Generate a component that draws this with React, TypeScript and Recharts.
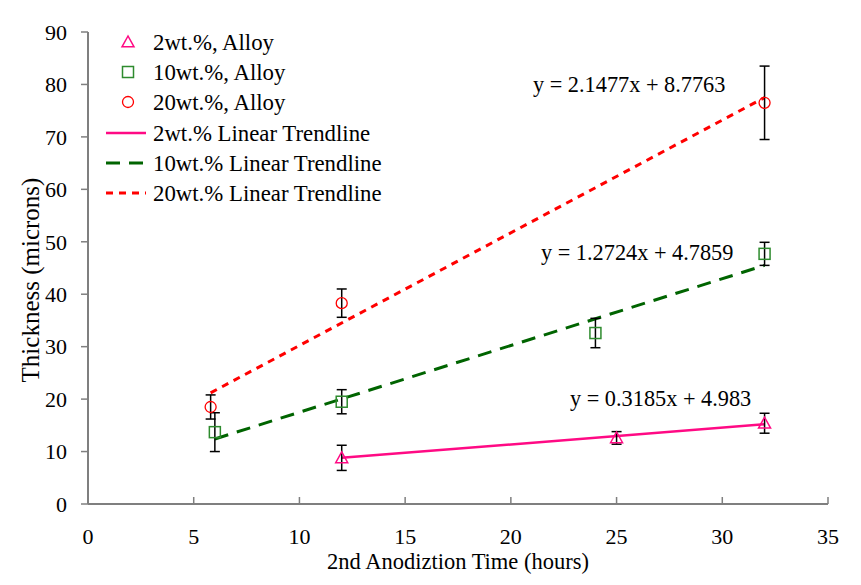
import React from "react";
import {
  ComposedChart,
  Scatter,
  Line,
  XAxis,
  YAxis,
  ErrorBar,
  Label,
} from "recharts";

// measured points (hours, microns) with +/- error
const alloy2 = [
  { x: 12, y: 8.8, err: 2.4 },
  { x: 25, y: 12.6, err: 1.2 },
  { x: 32, y: 15.4, err: 1.9 },
];
const alloy10 = [
  { x: 6, y: 13.7, err: 3.7 },
  { x: 12, y: 19.5, err: 2.3 },
  { x: 24, y: 32.6, err: 2.8 },
  { x: 32, y: 47.7, err: 2.2 },
];
const alloy20 = [
  { x: 5.8, y: 18.5, err: 2.3 },
  { x: 12, y: 38.3, err: 2.7 },
  { x: 32, y: 76.5, err: 7.0 },
];

// trendline end points
const trend2 = [
  { x: 12, y: 8.8 },
  { x: 32, y: 15.2 },
];
const trend10 = [
  { x: 6, y: 12.4 },
  { x: 32, y: 45.5 },
];
const trend20 = [
  { x: 5.8, y: 21.2 },
  { x: 32, y: 77.5 },
];

const xTicks = [0, 5, 10, 15, 20, 25, 30, 35];
const yTicks = [0, 10, 20, 30, 40, 50, 60, 70, 80, 90];

const equations = [
  { text: "y = 2.1477x + 8.7763", left: 533, top: 74 },
  { text: "y = 1.2724x + 4.7859", left: 541, top: 242 },
  { text: "y = 0.3185x + 4.983", left: 570, top: 388 },
];

const PINK = "#FF0A84";
const GREEN = "#006400";
const GREEN_MARK = "#2E8B2E";
const RED = "#FF0000";
const AXIS = "#7F7F7F";
const FONT = "Liberation Serif, Times New Roman, Times, DejaVu Serif, serif";

const W = 861;
const H = 585;
const AXIS_Y = 504;

const Triangle = (props: any) => {
  const { cx, cy } = props;
  const s = 6;
  return (
    <polygon
      points={`${cx},${cy - s} ${cx - s},${cy + s * 0.8} ${cx + s},${cy + s * 0.8}`}
      fill="none"
      stroke={PINK}
      strokeWidth={1.5}
    />
  );
};

const Square = (props: any) => {
  const { cx, cy } = props;
  return (
    <rect x={cx - 5.5} y={cy - 5.5} width={11} height={11} fill="none" stroke={GREEN_MARK} strokeWidth={1.5} />
  );
};

const Circle = (props: any) => {
  const { cx, cy } = props;
  return <circle cx={cx} cy={cy} r={5.5} fill="none" stroke={RED} strokeWidth={1.3} />;
};

const XTick = (props: any) => {
  const { x, payload } = props;
  return (
    <g>
      <line x1={x} x2={x} y1={AXIS_Y} y2={AXIS_Y - 7} stroke={AXIS} strokeWidth={1.5} />
      <text x={x} y={544} textAnchor="middle" fontSize={22} style={{ fontFamily: FONT }} fill="#000">
        {payload.value}
      </text>
    </g>
  );
};

const LegendBox = () => {
  const rows = [42, 72, 102, 133, 163, 193];
  const labels = [
    "2wt.%, Alloy",
    "10wt.%, Alloy",
    "20wt.%, Alloy",
    "2wt.% Linear Trendline",
    "10wt.% Linear Trendline",
    "20wt.% Linear Trendline",
  ];
  return (
    <svg width={420} height={220} style={{ position: "absolute", left: 0, top: 0 }}>
      <Triangle cx={128} cy={rows[0]} />
      <Square cx={128} cy={rows[1]} />
      <Circle cx={128} cy={rows[2]} />
      <line x1={106} x2={146} y1={rows[3]} y2={rows[3]} stroke={PINK} strokeWidth={2.5} />
      <line x1={106} x2={146} y1={rows[4]} y2={rows[4]} stroke={GREEN} strokeWidth={3} strokeDasharray="14 9" />
      <line x1={106} x2={146} y1={rows[5]} y2={rows[5]} stroke={RED} strokeWidth={3} strokeDasharray="7 6" />
      {labels.map((l, i) => (
        <text key={l} x={153} y={rows[i] + 7.5} fontSize={22.8} style={{ fontFamily: FONT }} fill="#000">
          {l}
        </text>
      ))}
    </svg>
  );
};

export default function App() {
  return (
    <div style={{ position: "absolute", left: 0, top: 0, width: W, height: H, background: "#fff", fontFamily: FONT }}>
      <ComposedChart width={W} height={H} margin={{ top: 32, right: 33, bottom: 0, left: 0 }} style={{ fontFamily: FONT }}>
        <XAxis
          type="number"
          dataKey="x"
          domain={[0, 35]}
          ticks={xTicks}
          height={81}
          stroke={AXIS}
          strokeWidth={2}
          tickLine={false}
          tick={<XTick />}
          allowDataOverflow
        >
          <Label
            value="2nd Anodiztion Time (hours)"
            position="insideBottom"
            offset={16}
            style={{ fontSize: 22.5, fontFamily: FONT, fill: "#000" }}
          />
        </XAxis>
        <YAxis
          type="number"
          dataKey="y"
          domain={[0, 90]}
          ticks={yTicks}
          width={88}
          stroke={AXIS}
          strokeWidth={2}
          tickSize={7}
          tickMargin={14}
          tick={{ fontSize: 22, fontFamily: FONT, fill: "#000", style: { fontFamily: FONT } }}
          tickLine={{ stroke: AXIS, strokeWidth: 1.5 }}
          label={{
            content: () => (
              <text
                x={30}
                y={280}
                transform="rotate(-90 30 280)"
                textAnchor="middle"
                dominantBaseline="central"
                fontSize={25}
                style={{ fontFamily: FONT }}
                fill="#000"
              >
                Thickness (microns)
              </text>
            ),
          }}
        />
        <Line data={trend20} dataKey="y" stroke={RED} strokeWidth={3} strokeDasharray="7 6" dot={false} isAnimationActive={false} />
        <Line data={trend10} dataKey="y" stroke={GREEN} strokeWidth={3} strokeDasharray="14 9" dot={false} isAnimationActive={false} />
        <Line data={trend2} dataKey="y" stroke={PINK} strokeWidth={2.5} dot={false} isAnimationActive={false} />
        <Scatter data={alloy20} dataKey="y" shape={<Circle />} isAnimationActive={false}>
          <ErrorBar dataKey="err" direction="y" width={5} stroke="#000" strokeWidth={1.5} />
        </Scatter>
        <Scatter data={alloy10} dataKey="y" shape={<Square />} isAnimationActive={false}>
          <ErrorBar dataKey="err" direction="y" width={5} stroke="#000" strokeWidth={1.5} />
        </Scatter>
        <Scatter data={alloy2} dataKey="y" shape={<Triangle />} isAnimationActive={false}>
          <ErrorBar dataKey="err" direction="y" width={5} stroke="#000" strokeWidth={1.5} />
        </Scatter>
      </ComposedChart>
      <LegendBox />
      {equations.map((e) => (
        <div
          key={e.text}
          style={{
            position: "absolute",
            left: e.left,
            top: e.top,
            fontSize: 22.3,
            lineHeight: "22px",
            fontFamily: FONT,
            whiteSpace: "nowrap",
            color: "#000",
          }}
        >
          {e.text}
        </div>
      ))}
    </div>
  );
}
